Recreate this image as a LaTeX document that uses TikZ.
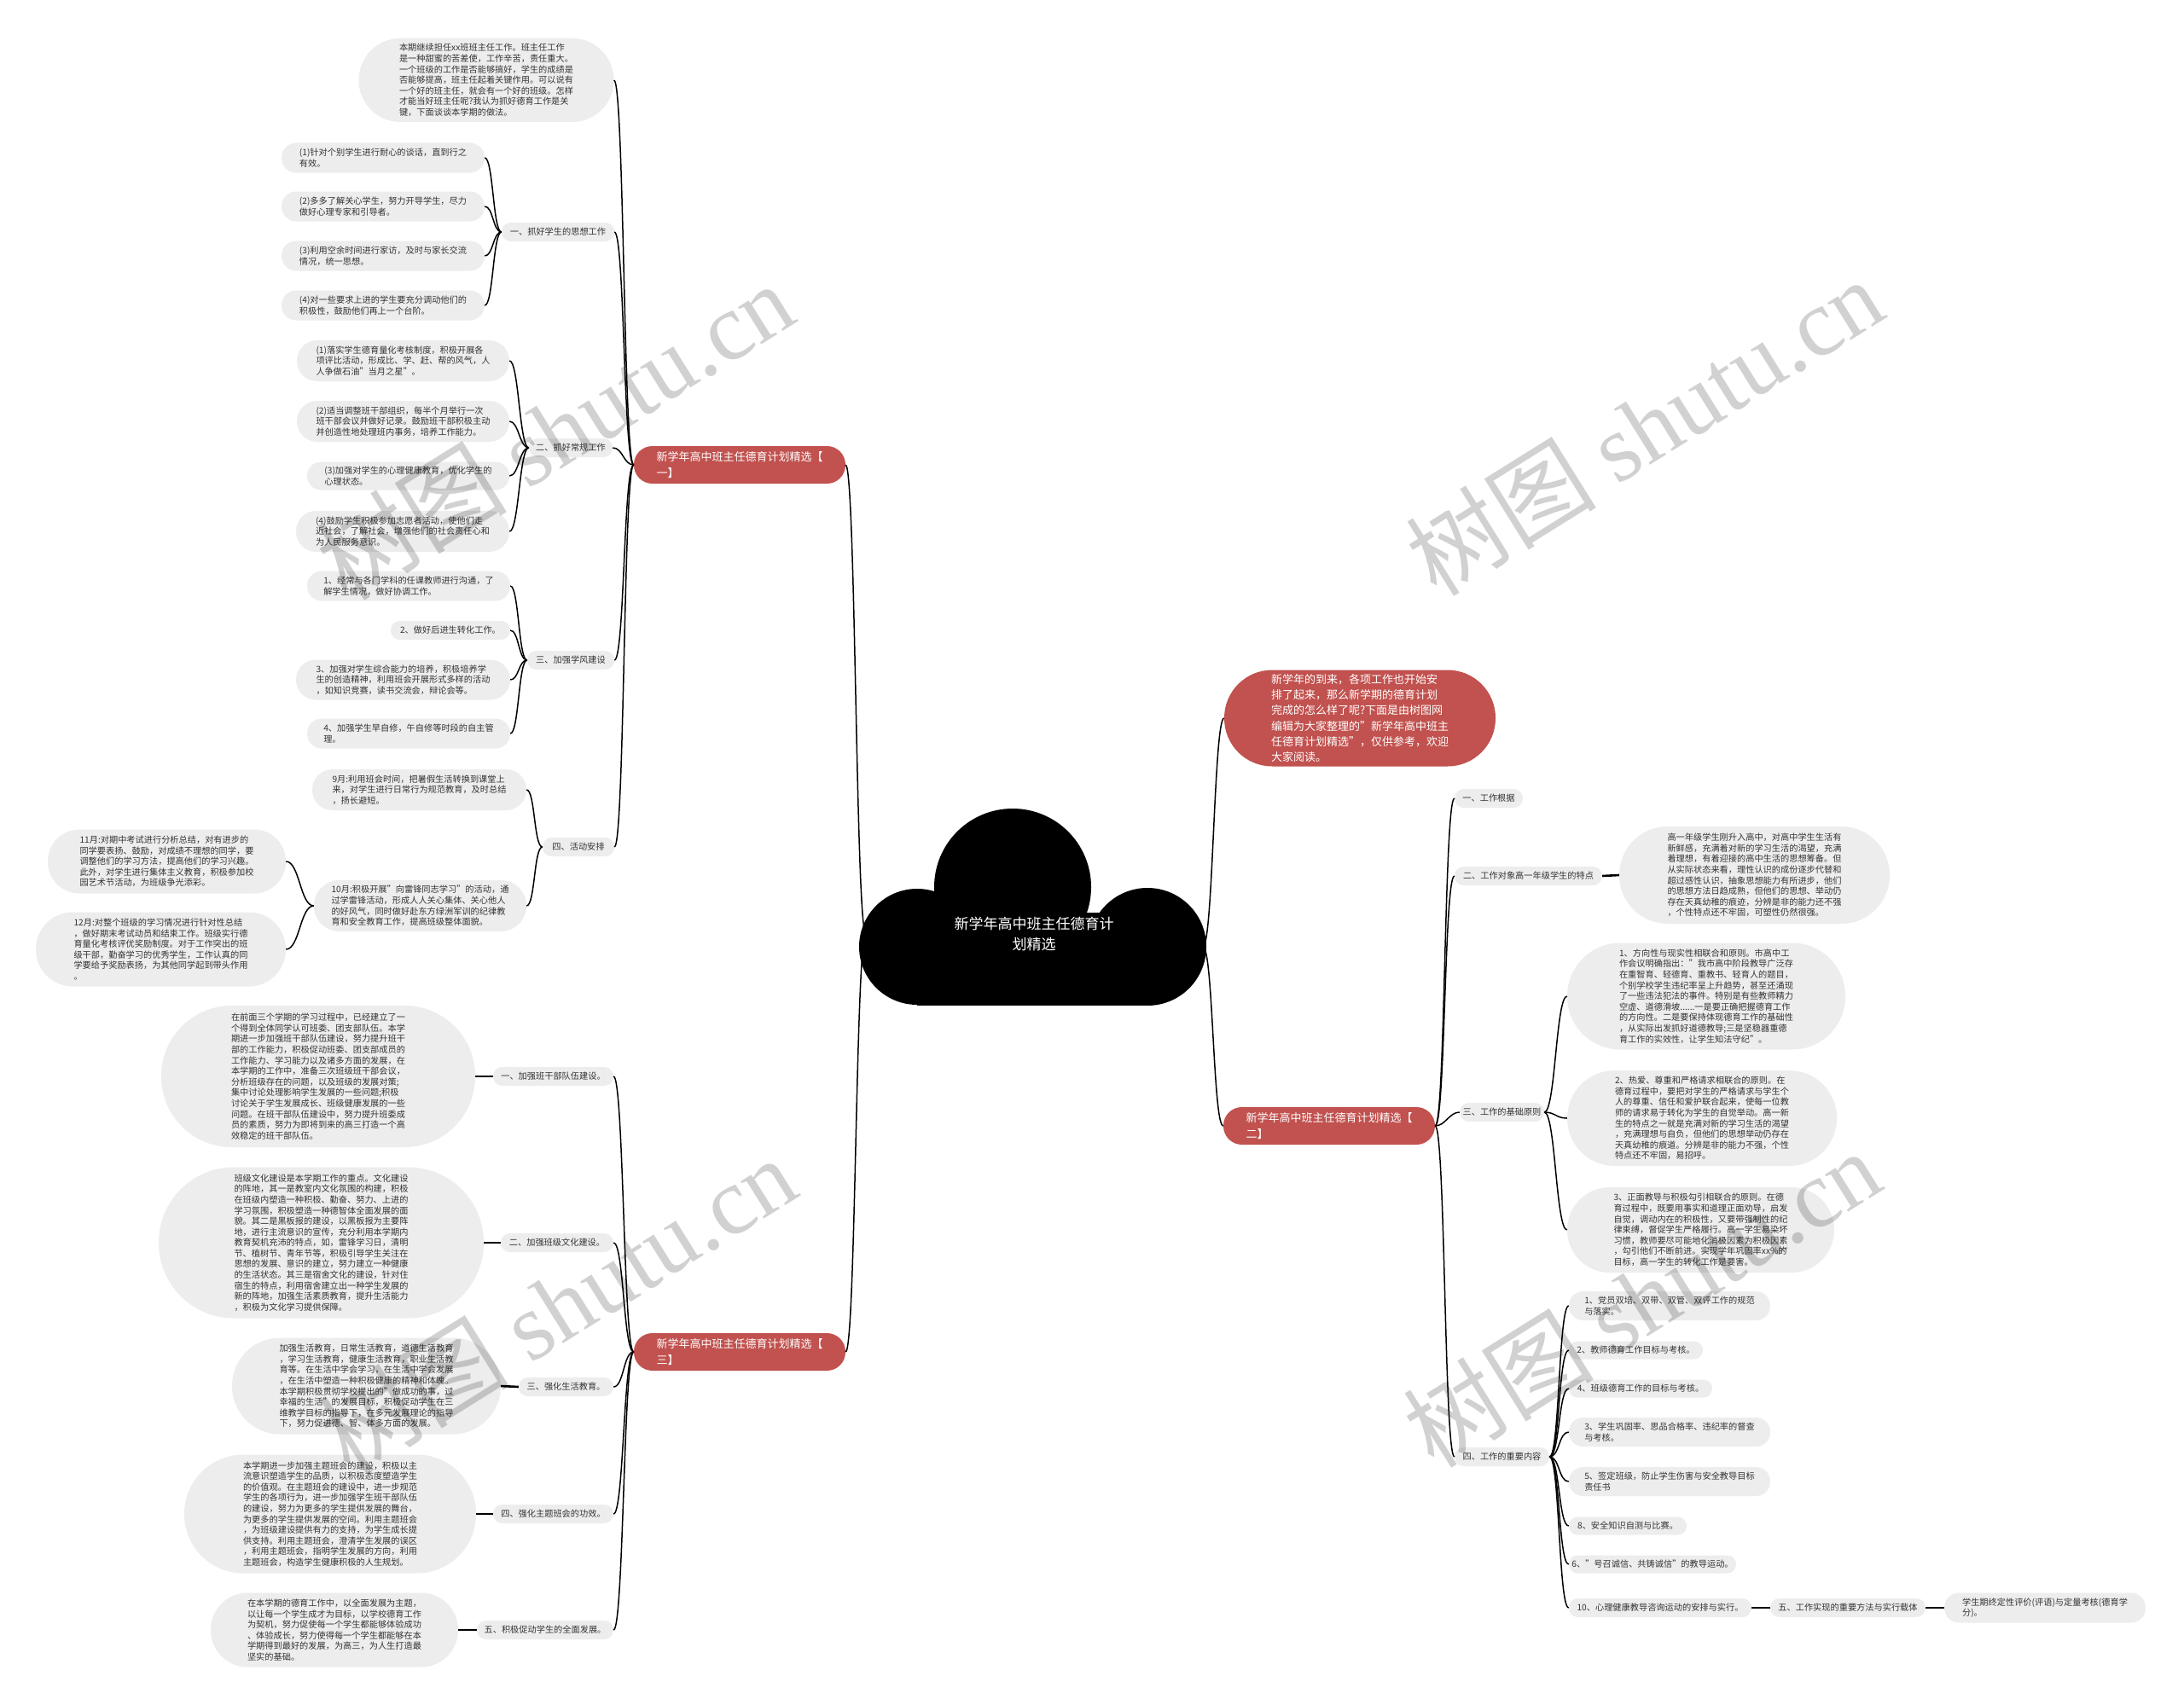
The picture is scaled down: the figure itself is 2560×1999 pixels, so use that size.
\documentclass[tikz,border=0pt]{standalone}
\usepackage{fontspec}
\setmainfont{Noto Sans CJK SC}
\newfontfamily\wmserif{Liberation Serif}
\definecolor{redn}{RGB}{193,82,79}
\definecolor{bubg}{RGB}{237,237,237}
\definecolor{txt}{RGB}{51,51,51}
\newcommand\bub[6]{%
  \pgfmathsetmacro\rr{#5/2-0.3}%
  \node[bubble, minimum width=#4pt, minimum height=#5pt, rounded corners=\rr pt] (#1) at (#2,#3) {#6};}
\newcommand\lab[5]{%
  \node[bubble, minimum width=#4pt, minimum height=22pt, rounded corners=10.7pt] (#1) at (#2,#3) {#5};}
\newcommand\rnd[6]{%
  \pgfmathsetmacro\rr{#5/2-0.3}%
  \node[rednode, minimum width=#4pt, minimum height=#5pt, rounded corners=\rr pt] (#1) at (#2,#3) {#6};}
\newcommand\lkL[3]{\draw[link] (#1) .. controls +(-#3,0) and +(#3,0) .. (#2);}
\newcommand\lkR[3]{\draw[link] (#1) .. controls +(#3,0) and +(-#3,0) .. (#2);}
\begin{document}
\begin{tikzpicture}[x=1pt,y=-1pt,
  bubble/.style={fill=bubg, text=txt, inner sep=0pt, align=left, font=\fontsize{10.2}{12.6}\selectfont},
  rednode/.style={fill=redn, text=white, inner sep=0pt, align=left, font=\fontsize{13}{18.3}\selectfont},
  link/.style={line width=1.5pt, black},
  bar/.style={line width=2.6pt, black},
  wm/.style={text=black, text opacity=0.18, rotate=32, inner sep=0pt, font=\fontsize{112}{112}\selectfont}]
\fill[white] (0,0) rectangle (2560,1999);
\useasboundingbox (0,0) rectangle (2560,1999);

% ---------- cloud ----------
\fill[black] (1187,1040) circle (92);
\fill[black] (1075,1110) circle (68);
\fill[black] (1345,1110) circle (69);
\fill[black] (1075,1070) rectangle (1345,1179);
\node[text=white, align=center, inner sep=0pt, font=\fontsize{17}{24}\selectfont] (ctr) at (1212,1095) {新学年高中班主任德育计\\划精选};
\coordinate (cl) at (1015,1095);
\coordinate (cr) at (1410,1110);

% ---------- red nodes ----------
\rnd{r1}{867}{545}{248}{44}{新学年高中班主任德育计划精选【\\一】}
\rnd{r3}{867}{1585}{248}{44}{新学年高中班主任德育计划精选【\\三】}
\rnd{r2}{1558}{1320}{248}{44}{新学年高中班主任德育计划精选【\\二】}
\rnd{ir}{1594}{842}{318}{113}{新学年的到来，各项工作也开始安\\排了起来，那么新学期的德育计划\\完成的怎么样了呢?下面是由树图网\\编辑为大家整理的"新学年高中班主\\任德育计划精选"，仅供参考，欢迎\\大家阅读。}

% ---------- branch 1 ----------
\bub{intro}{570}{94}{299}{98}{本期继续担任xx班班主任工作。班主任工作\\是一种甜蜜的苦差使，工作辛苦，责任重大。\\一个班级的工作是否能够搞好，学生的成绩是\\否能够提高，班主任起着关键作用。可以说有\\一个好的班主任，就会有一个好的班级。怎样\\才能当好班主任呢?我认为抓好德育工作是关\\键，下面谈谈本学期的做法。}
\lab{la}{654}{272}{132}{一、抓好学生的思想工作}
\bub{a1}{449}{185}{238}{35}{(1)针对个别学生进行耐心的谈话，直到行之\\有效。}
\bub{a2}{449}{242}{238}{35}{(2)多多了解关心学生，努力开导学生，尽力\\做好心理专家和引导者。}
\bub{a3}{449}{300}{238}{35}{(3)利用空余时间进行家访，及时与家长交流\\情况，统一思想。}
\bub{a4}{449}{358}{238}{35}{(4)对一些要求上进的学生要充分调动他们的\\积极性，鼓励他们再上一个台阶。}

\lab{lb}{669}{525}{98}{二、抓好常规工作}
\bub{b1}{472.5}{423}{249}{48}{(1)落实学生德育量化考核制度，积极开展各\\项评比活动，形成比、学、赶、帮的风气，人\\人争做石油"当月之星"。}
\bub{b2}{472.5}{494}{249}{48}{(2)适当调整班干部组织，每半个月举行一次\\班干部会议并做好记录。鼓励班干部积极主动\\并创造性地处理班内事务，培养工作能力。}
\bub{b3}{478.5}{558}{237}{33}{(3)加强对学生的心理健康教育，优化学生的\\心理状态。}
\bub{b4}{472}{623}{250}{48}{(4)鼓励学生积极参加志愿者活动，使他们走\\近社会，了解社会，增强他们的社会责任心和\\为人民服务意识。}

\lab{lc}{669}{774}{102}{三、加强学风建设}
\bub{c1}{479}{687}{238}{35}{1、经常与各门学科的任课教师进行沟通，了\\解学生情况，做好协调工作。}
\bub{c2}{528}{739}{140}{22}{2、做好后进生转化工作。}
\bub{c3}{472.5}{797}{251}{47}{3、加强对学生综合能力的培养，积极培养学\\生的创造精神，利用班会开展形式多样的活动\\，如知识竞赛，读书交流会，辩论会等。}
\bub{c4}{479}{860}{238}{35}{4、加强学生早自修，午自修等时段的自主管\\理。}

\lab{ld}{678}{993}{84}{四、活动安排}
\bub{d9}{491.5}{926}{251}{48}{9月:利用班会时间，把暑假生活转换到课堂上\\来，对学生进行日常行为规范教育，及时总结\\，扬长避短。}
\bub{d10}{492.5}{1062}{249}{60}{10月:积极开展"向雷锋同志学习"的活动，通\\过学雷锋活动，形成人人关心集体、关心他人\\的好风气，同时做好赴东方绿洲军训的纪律教\\育和安全教育工作，提高班级整体面貌。}
\bub{d11}{195.5}{1010}{279}{75}{11月:对期中考试进行分析总结，对有进步的\\同学要表扬、鼓励，对成绩不理想的同学，要\\调整他们的学习方法，提高他们的学习兴趣。\\此外，对学生进行集体主义教育，积极参加校\\园艺术节活动，为班级争光添彩。}
\bub{d12}{188.5}{1113}{293}{87}{12月:对整个班级的学习情况进行针对性总结\\，做好期末考试动员和结束工作。班级实行德\\育量化考核评优奖励制度。对于工作突出的班\\级干部，勤奋学习的优秀学生，工作认真的同\\学要给予奖励表扬，为其他同学起到带头作用\\。}

% ---------- branch 3 ----------
\bub{e1}{373}{1262}{368}{166}{在前面三个学期的学习过程中，已经建立了一\\个得到全体同学认可班委、团支部队伍。本学\\期进一步加强班干部队伍建设，努力提升班干\\部的工作能力，积极促动班委、团支部成员的\\工作能力、学习能力以及诸多方面的发展，在\\本学期的工作中，准备三次班级班干部会议，\\分析班级存在的问题，以及班级的发展对策;\\集中讨论处理影响学生发展的一些问题;积极\\讨论关于学生发展成长、班级健康发展的一些\\问题。在班干部队伍建设中，努力提升班委成\\员的素质，努力为即将到来的高三打造一个高\\效稳定的班干部队伍。}
\lab{le1}{648.5}{1262}{141}{一、加强班干部队伍建设。}
\bub{e2}{376.5}{1457}{381}{177}{班级文化建设是本学期工作的重点。文化建设\\的阵地，其一是教室内文化氛围的构建，积极\\在班级内塑造一种积极、勤奋、努力、上进的\\学习氛围，积极塑造一种德智体全面发展的面\\貌。其二是黑板报的建设，以黑板报为主要阵\\地，进行主流意识的宣传，充分利用本学期内\\教育契机充沛的特点，如，雷锋学习日，清明\\节、植树节、青年节等，积极引导学生关注在\\思想的发展、意识的建立，努力建立一种健康\\的生活状态。其三是宿舍文化的建设，针对住\\宿生的特点，利用宿舍建立出一种学生发展的\\新的阵地，加强生活素质教育，提升生活能力\\，积极为文化学习提供保障。}
\lab{le2}{653}{1457}{132}{二、加强班级文化建设。}
\bub{e3}{429.5}{1625}{315}{113}{加强生活教育，日常生活教育，道德生活教育\\，学习生活教育，健康生活教育，职业生活教\\育等。在生活中学会学习，在生活中学会发展\\，在生活中塑造一种积极健康的精神和体魄。\\本学期积极贯彻学校提出的"做成功的事，过\\幸福的生活"的发展目标，积极促动学生在三\\维教学目标的指导下，在多元发展理论的指导\\下，努力促进德、智、体多方面的发展。}
\lab{le3}{663.5}{1626}{111}{三、强化生活教育。}
\bub{e4}{387}{1775}{342}{139}{本学期进一步加强主题班会的建设，积极以主\\流意识塑造学生的品质，以积极态度塑造学生\\的价值观。在主题班会的建设中，进一步规范\\学生的各项行为，进一步加强学生班干部队伍\\的建设，努力为更多的学生提供发展的舞台，\\为更多的学生提供发展的空间。利用主题班会\\，为班级建设提供有力的支持，为学生成长提\\供支持。利用主题班会，澄清学生发展的误区\\，利用主题班会，指明学生发展的方向，利用\\主题班会，构造学生健康积极的人生规划。}
\lab{le4}{648.5}{1775}{141}{四、强化主题班会的功效。}
\bub{e5}{392}{1911}{290}{87}{在本学期的德育工作中，以全面发展为主题，\\以让每一个学生成才为目标，以学校德育工作\\为契机，努力促使每一个学生都能够体验成功\\、体验成长，努力使得每一个学生都能够在本\\学期得到最好的发展，为高三，为人生打造最\\坚实的基础。}
\lab{le5}{639}{1911}{160}{五、积极促动学生的全面发展。}

% ---------- branch 2 (right) ----------
\lab{f1}{1745}{936}{80}{一、工作根据}
\lab{f2}{1791.5}{1027}{173}{二、工作对象高一年级学生的特点}
\bub{fb}{2056.5}{1026}{317}{114}{高一年级学生刚升入高中，对高中学生生活有\\新鲜感，充满着对新的学习生活的渴望，充满\\着理想，有着迎接的高中生活的思想筹备。但\\从实际状态来看，理性认识的成份逐步代替和\\超过感性认识，抽象思想能力有所进步，他们\\的思想方法日趋成熟，但他们的思想、举动仍\\存在天真幼稚的痕迹，分辨是非的能力还不强\\，个性特点还不牢固，可塑性仍然很强。}
\lab{f3}{1760.5}{1304}{99}{三、工作的基础原则}
\bub{g1}{2000}{1168}{326}{125}{1、方向性与现实性相联合和原则。市高中工\\作会议明确指出："我市高中阶段教导广泛存\\在重智育、轻德育、重教书、轻育人的题目，\\个别学校学生违纪率呈上升趋势，甚至还涌现\\了一些违法犯法的事件。特别是有些教师精力\\空虚、道德滑坡......一是要正确把握德育工作\\的方向性。二是要保持体现德育工作的基础性\\，从实际出发抓好道德教导;三是坚稳器重德\\育工作的实效性，让学生知法守纪"。}
\bub{g2}{1995}{1311}{316}{112}{2、热爱、尊重和严格请求相联合的原则。在\\德育过程中，要把对学生的严格请求与学生个\\人的尊重、信任和爱护联合起来，使每一位教\\师的请求易于转化为学生的自觉举动。高一新\\生的特点之一就是充满对新的学习生活的渴望\\，充满理想与自负，但他们的思想举动仍存在\\天真幼稚的痕道。分辨是非的能力不强，个性\\特点还不牢固，易招呼。}
\bub{g3}{1993.5}{1442}{313}{100}{3、正面教导与积极勾引相联合的原则。在德\\育过程中，既要用事实和道理正面劝导，启发\\自觉，调动内在的积极性，又要带强制性的纪\\律束缚，督促学生严格履行。高一学生易染坏\\习惯，教师要尽可能地化消极因素为积极因素\\，勾引他们不断前进。实现学年巩固率xx\%的\\目标，高一学生的转化工作是要害。}
\lab{f4}{1760.5}{1708}{111}{四、工作的重要内容}
\bub{h1}{1957}{1531}{236}{34}{1、党员双培、双带、双管、双评工作的规范\\与落实。}
\bub{h2}{1917.5}{1583}{157}{21}{2、教师德育工作目标与考核。}
\bub{h4}{1923}{1628}{168}{21}{4、班级德育工作的目标与考核。}
\bub{h3}{1957}{1679}{236}{34}{3、学生巩固率、思品合格率、违纪率的督查\\与考核。}
\bub{h5}{1957}{1737}{236}{34}{5、签定班级，防止学生伤害与安全教导目标\\责任书}
\bub{h8}{1908}{1789}{138}{21}{8、安全知识自测与比赛。}
\bub{h6}{1937}{1834}{196}{21}{6、"号召诚信、共铸诚信"的教导运动。}
\bub{h10}{1946}{1885}{214}{22}{10、心理健康教导咨询运动的安排与实行。}
\lab{f5}{2166}{1885}{182}{五、工作实现的重要方法与实行载体}
\bub{fin}{2397}{1885}{236}{35}{学生期终定性评价(评语)与定量考核(德育学\\分)。}

% ---------- connectors ----------
\lkL{cl}{r1.east}{12}
\lkL{cl}{r3.east}{12}
\lkR{cr}{ir.west}{12}
\lkR{cr}{r2.west}{12}

\foreach \t in {intro,la,lb,lc,ld}{\lkL{r1.west}{\t.east}{12}}
\foreach \t in {a1,a2,a3,a4}{\lkL{la.west}{\t.east}{10}}
\foreach \t in {b1,b2,b3,b4}{\lkL{lb.west}{\t.east}{11}}
\foreach \t in {c1,c2,c3,c4}{\lkL{lc.west}{\t.east}{10}}
\foreach \t in {d9,d10}{\lkL{ld.west}{\t.east}{10}}
\foreach \t in {d11,d12}{\lkL{d10.west}{\t.east}{16}}
\foreach \t in {le1,le2,le3,le4,le5}{\lkL{r3.west}{\t.east}{12}}
\draw[bar] (le1.west) -- (e1.east);
\draw[bar] (le2.west) -- (e2.east);
\draw[bar] (le3.west) -- (e3.east);
\draw[bar] (le4.west) -- (e4.east);
\draw[bar] (le5.west) -- (e5.east);

\foreach \t in {f1,f2,f3,f4}{\lkR{r2.east}{\t.west}{12}}
\draw[bar] (f2.east) -- (fb.west);
\foreach \t in {g1,g2,g3}{\lkR{f3.east}{\t.west}{13}}
\foreach \t in {h1,h2,h4,h3,h5,h8,h6,h10}{\lkR{f4.east}{\t.west}{12}}
\draw[bar] (h10.east) -- (f5.west);
\draw[bar] (f5.east) -- (fin.west);

% ---------- watermarks ----------
\node[wm] (w1) at (650,505) {树图 {\wmserif shutu.cn}};
\node[wm] (w2) at (1927,500) {树图 {\wmserif shutu.cn}};
\node[wm] (w3) at (653,1530) {树图 {\wmserif shutu.cn}};
\node[wm] (w4) at (1924,1522) {树图 {\wmserif shutu.cn}};
\end{tikzpicture}
\end{document}
